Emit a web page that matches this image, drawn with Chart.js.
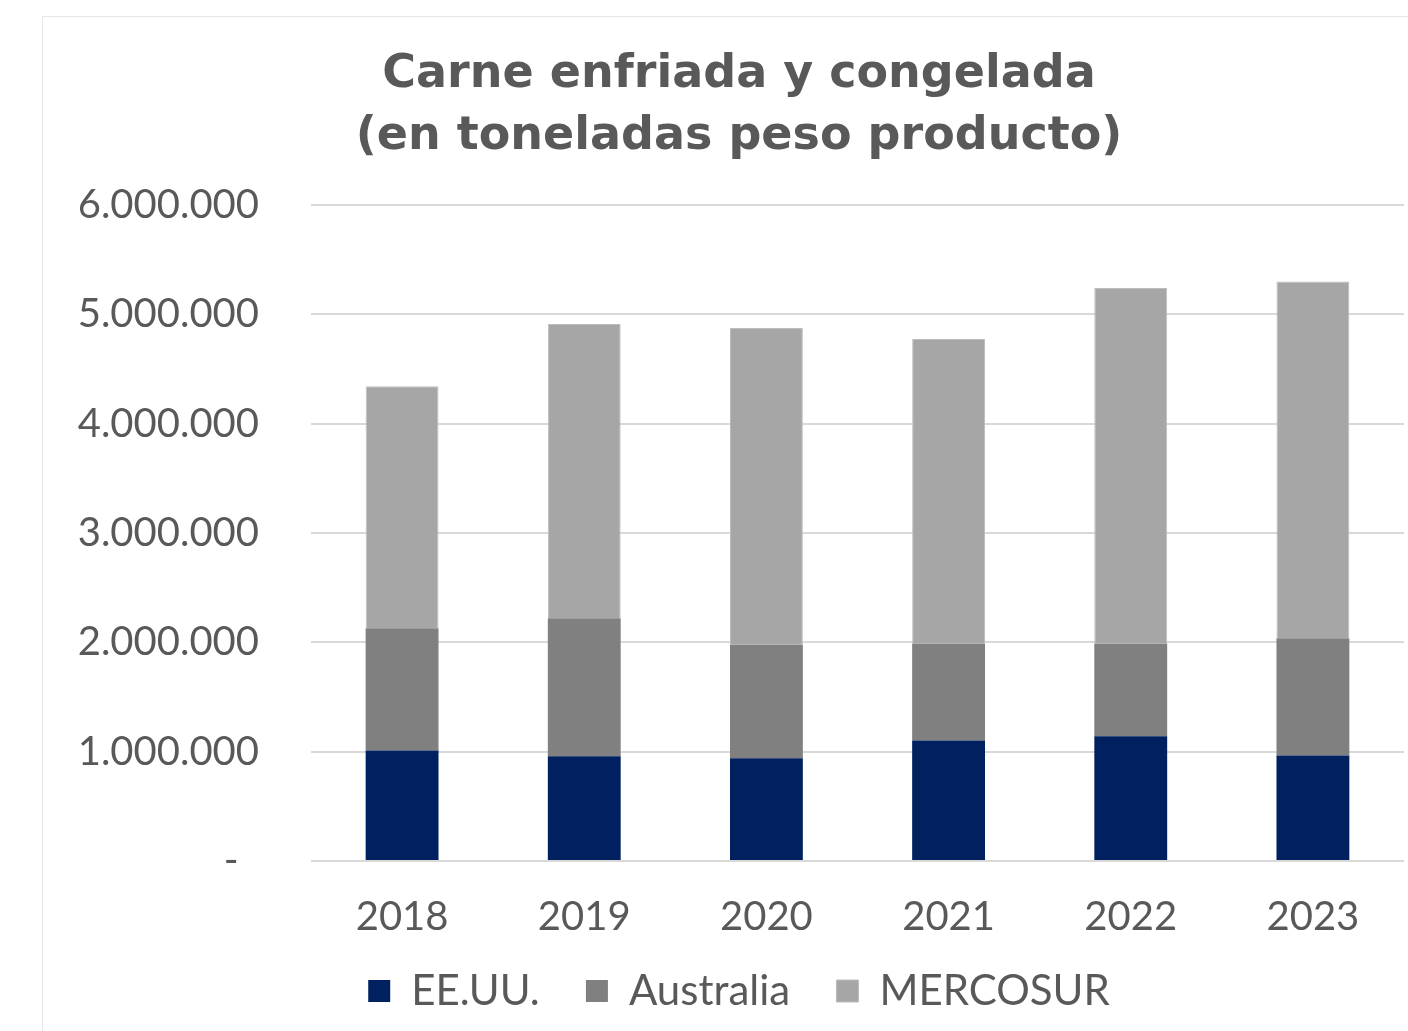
<!DOCTYPE html>
<html>
<head>
<meta charset="utf-8">
<script src="https://cdn.jsdelivr.net/npm/chart.js@4.4.1/dist/chart.umd.min.js"></script>
<style>
  html, body { margin: 0; padding: 0; background: #ffffff; overflow: hidden; }
  #frame { position: absolute; left: 42px; top: 16px; width: 1392px; height: 1020px; border: 1px solid #e6e6e6; background: #fff; }
  #wrap { position: absolute; left: 0; top: 0; width: 1392px; height: 1014px; }
</style>
</head>
<body>
<div id="frame"><div id="wrap"><canvas id="c"></canvas></div></div>
<script>
const categories = ['2018', '2019', '2020', '2021', '2022', '2023'];
const seriesNames = ['EE.UU.', 'Australia', 'MERCOSUR'];
const eeuu = [1010000, 957000, 939000, 1103000, 1140000, 966000];
const australia = [1119000, 1263000, 1041000, 886000, 849000, 1071000];
const mercosur = [2213000, 2691000, 2895000, 2785000, 3251000, 3264000];
const yTicks = [0, 1000000, 2000000, 3000000, 4000000, 5000000, 6000000];
const titleLines = ['Carne enfriada y congelada', '(en toneladas peso producto)'];

const textColor = '#595959';
const tickFont = { family: 'Lato', size: 40, weight: 'normal' };

function fmt(v) {
  if (v === 0) return '-  ';
  return String(Math.round(v)).replace(/\B(?=(\d{3})+(?!\d))/g, '.');
}

new Chart(document.getElementById('c'), {
  type: 'bar',
  data: {
    labels: categories,
    datasets: [
      { label: seriesNames[0], data: eeuu, backgroundColor: '#002060', borderWidth: 0 },
      { label: seriesNames[1], data: australia, backgroundColor: '#808080', borderWidth: 0 },
      { label: seriesNames[2], data: mercosur, backgroundColor: '#a6a6a6', borderColor: '#bdbdbd', borderWidth: 1 }
    ]
  },
  options: {
    responsive: true,
    maintainAspectRatio: false,
    animation: false,
    datasets: { bar: { categoryPercentage: 1.0, barPercentage: 0.4 } },
    layout: { padding: { left: 0, right: 0, top: 0, bottom: 9 } },
    plugins: {
      title: {
        display: true,
        text: titleLines,
        color: textColor,
        font: { family: 'DejaVu Sans', size: 46, weight: 'bold', lineHeight: 1.348 },
        padding: { top: 27, bottom: 37 }
      },
      legend: {
        position: 'bottom',
        labels: {
          color: textColor,
          font: { family: 'Lato', size: 42 },
          boxWidth: 22,
          boxHeight: 22,
          padding: 14,
          generateLabels: chart => Chart.defaults.plugins.legend.labels.generateLabels(chart)
            .map((l, i, arr) => Object.assign(l, { text: i < arr.length - 1 ? l.text + '   ' : l.text }))
        }
      },
      tooltip: { enabled: false }
    },
    scales: {
      x: {
        stacked: true,
        grid: { display: false, drawTicks: false },
        border: { display: false },
        ticks: { color: textColor, font: tickFont, padding: 32 },
        afterFit: s => { s.height = 95; }
      },
      y: {
        stacked: true,
        min: 0,
        max: 6000000,
        afterBuildTicks: s => { s.ticks = yTicks.map(v => ({ value: v })); },
        grid: { color: '#d9d9d9', lineWidth: 2, drawTicks: false },
        border: { display: false },
        ticks: { color: textColor, font: tickFont, padding: 52, callback: v => fmt(v) },
        afterFit: s => { s.width = 268; }
      },
      yR: {
        position: 'right',
        display: true,
        grid: { display: false, drawTicks: false },
        border: { display: false },
        ticks: { display: false },
        afterFit: s => { s.width = 31; }
      }
    }
  }
});
</script>
</body>
</html>
